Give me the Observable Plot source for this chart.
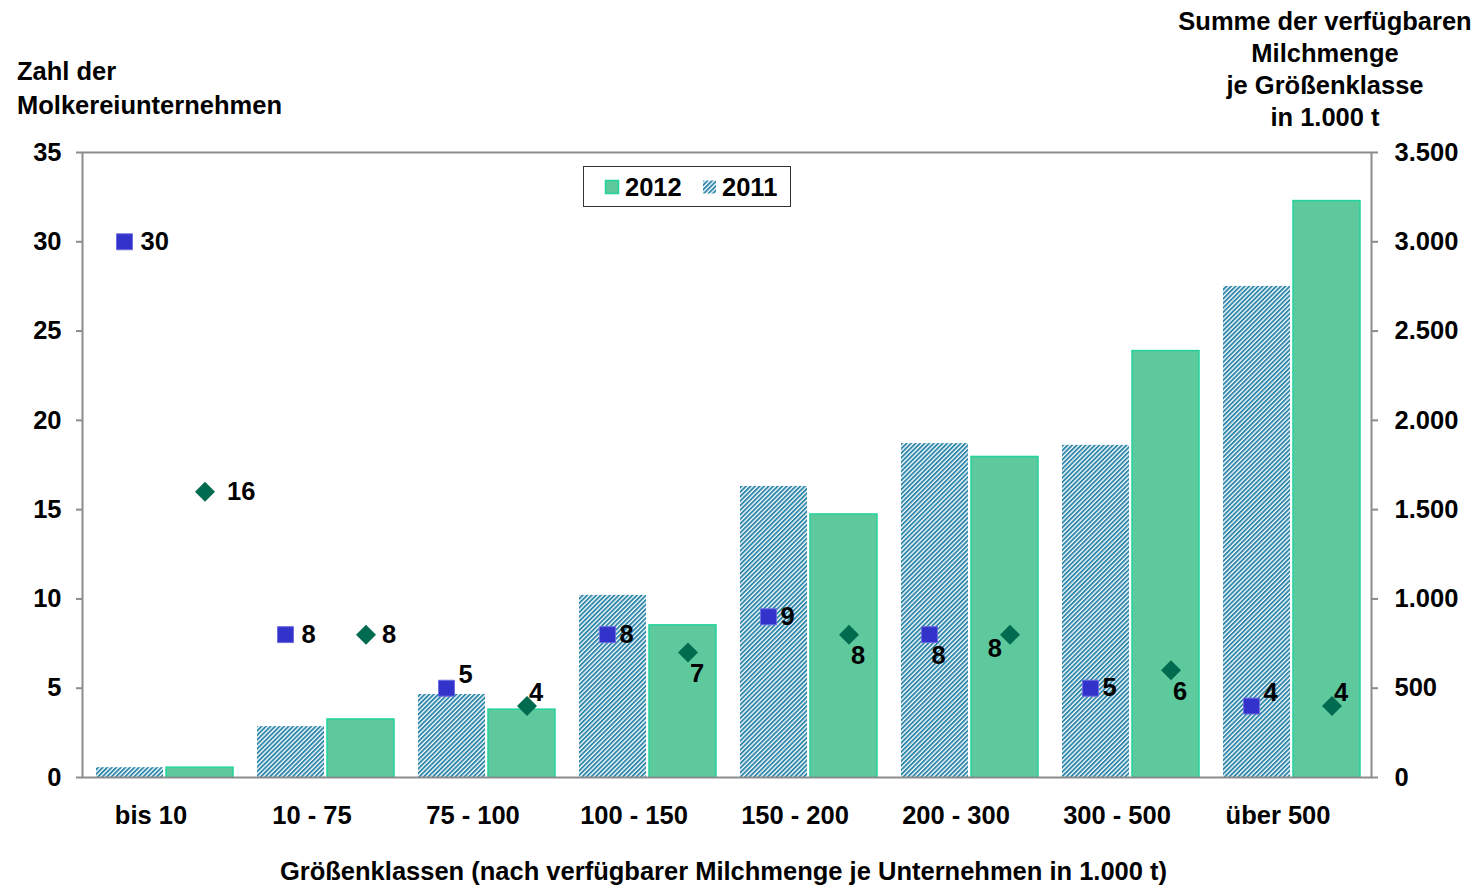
<!DOCTYPE html>
<html>
<head>
<meta charset="utf-8">
<script src="https://cdn.jsdelivr.net/npm/d3@7"></script>
<script src="https://cdn.jsdelivr.net/npm/@observablehq/plot@0.6"></script>
<style>
  body { margin: 0; background: white; }
  svg text { font-family: "Liberation Sans", Arial, sans-serif; }
</style>
</head>
<body>
<div id="chart"></div>
<script>
// ---- data ----
const categories = ["bis 10", "10 - 75", "75 - 100", "100 - 150", "150 - 200", "200 - 300", "300 - 500", "über 500"];
// Summe der verfügbaren Milchmenge je Größenklasse (1.000 t)
const milk2011 = [55, 285, 465, 1020, 1630, 1870, 1860, 2750];
const milk2012 = [55, 325, 380, 852, 1473, 1795, 2388, 3228];
// Zahl der Molkereiunternehmen
const count2011 = [30, 8, 5, 8, 9, 8, 5, 4];
const count2012 = [16, 8, 4, 7, 8, 8, 6, 4];
// label placement (style)
const labelPos2011 = ["right", "right", "above", "near", "near", "below", "near", "above"];
const labelPos2012 = ["far", "right", "aboveNear", "below", "below", "left", "below", "aboveNear"];
const leftTicks = [0, 5, 10, 15, 20, 25, 30, 35];

const rows = categories.map((cat, i) => ({
  cat,
  m2011: milk2011[i], m2012: milk2012[i],
  c2011: count2011[i], c2012: count2012[i],
  p2011: labelPos2011[i], p2012: labelPos2012[i]
}));

const de = d3.formatLocale({decimal: ",", thousands: ".", grouping: [3], currency: ["", " €"]}).format(",d");

const placements = {
  far:       {dx: 22, dy: 0,   textAnchor: "start"},
  right:     {dx: 16, dy: 0,   textAnchor: "start"},
  near:      {dx: 12, dy: 0,   textAnchor: "start"},
  above:     {dx: 12, dy: -13, textAnchor: "start"},
  aboveNear: {dx: 2,  dy: -13, textAnchor: "start"},
  below:     {dx: 2,  dy: 21,  textAnchor: "start"},
  left:      {dx: -8, dy: 14,  textAnchor: "end"}
};

const FS = 25.5;
const sqDx = -39.5, diaDx = 41;
const labelMarks = [];
for (const [name, p] of Object.entries(placements)) {
  labelMarks.push(Plot.text(rows.filter(d => d.p2011 === name), {
    x: "cat", y: "c2011", text: d => String(d.c2011),
    dx: sqDx + p.dx, dy: p.dy, textAnchor: p.textAnchor,
    fill: "black", fontWeight: "bold", fontSize: FS
  }));
  labelMarks.push(Plot.text(rows.filter(d => d.p2012 === name), {
    x: "cat", y: "c2012", text: d => String(d.c2012),
    dx: diaDx + p.dx, dy: p.dy, textAnchor: p.textAnchor,
    fill: "black", fontWeight: "bold", fontSize: FS
  }));
}

const axisColor = "#8c8c8c";

const svg = Plot.plot({
  width: 1477,
  height: 887,
  marginLeft: 82,
  marginRight: 106,
  marginTop: 152,
  marginBottom: 110,
  style: {background: "white", fontFamily: "'Liberation Sans', Arial, sans-serif", fontSize: FS + "px", fontWeight: "bold", overflow: "visible"},
  x: {type: "band", domain: categories, padding: 0},
  y: {domain: [0, 35]},
  marks: [
    Plot.barY(rows, {x: "cat", y: d => d.m2011 / 100, fill: "url(#hatch2011)", insetLeft: 13, insetRight: 81}),
    Plot.barY(rows, {x: "cat", y: d => d.m2012 / 100, fill: "#5ec99d", stroke: "#22d39c", strokeWidth: 1.5, insetLeft: 83, insetRight: 11}),
    Plot.frame({stroke: axisColor, strokeWidth: 2}),
    Plot.axisY({anchor: "left", ticks: leftTicks, tickSize: 6, tickPadding: 15, stroke: axisColor, strokeWidth: 2, fill: "black", label: null, fontWeight: "bold"}),
    Plot.axisY({anchor: "right", ticks: leftTicks, tickFormat: d => de(d * 100), tickSize: 6, tickPadding: 17, stroke: axisColor, strokeWidth: 2, fill: "black", label: null, fontWeight: "bold"}),
    Plot.axisX({anchor: "bottom", tickSize: 0, tickPadding: 28, dx: -13, fill: "black", label: null, fontWeight: "bold"}),
    Plot.dot(rows, {x: "cat", y: "c2011", dx: sqDx, symbol: "square", r: 9, fill: "#3333cc", stroke: "#6d6de0", strokeWidth: 1}),
    Plot.dot(rows, {x: "cat", y: "c2012", dx: diaDx, symbol: "diamond2", r: 9, fill: "#006b4f"}),
    ...labelMarks
  ]
});

const s = d3.select(svg);
// hatch pattern
const defs = s.insert("defs", ":first-child");
const pat = defs.append("pattern").attr("id", "hatch2011")
  .attr("patternUnits", "userSpaceOnUse").attr("width", 3.2).attr("height", 3.2)
  .attr("patternTransform", "rotate(45)");
pat.append("rect").attr("width", 3.2).attr("height", 3.2).attr("fill", "white");
pat.append("rect").attr("width", 1.9).attr("height", 3.2).attr("fill", "#2f88ab");

const font = "'Liberation Sans', Arial, sans-serif";
function addText(x, y, txt, anchor) {
  s.append("text").attr("x", x).attr("y", y).attr("text-anchor", anchor)
    .attr("font-family", font).attr("font-size", FS).attr("font-weight", "bold")
    .attr("fill", "black").text(txt);
}
// left axis title
addText(17, 80, "Zahl der", "start");
addText(17, 114, "Molkereiunternehmen", "start");
// right axis title
["Summe der verfügbaren", "Milchmenge", "je Größenklasse", "in 1.000 t"].forEach((t, i) => addText(1325, 30 + i * 32, t, "middle"));
// x axis title
addText(723.5, 880, "Größenklassen (nach verfügbarer Milchmenge je Unternehmen in 1.000 t)", "middle");

// legend
const lg = s.append("g");
lg.append("rect").attr("x", 583.5).attr("y", 166.5).attr("width", 207).attr("height", 40)
  .attr("fill", "white").attr("stroke", "#333").attr("stroke-width", 1);
lg.append("rect").attr("x", 605.5).attr("y", 180.5).attr("width", 13).attr("height", 13)
  .attr("fill", "#5ec99d").attr("stroke", "#22d39c").attr("stroke-width", 1.5);
lg.append("rect").attr("x", 703).attr("y", 180.5).attr("width", 13).attr("height", 13)
  .attr("fill", "url(#hatch2011)");
addText(625, 196, "2012", "start");
addText(722, 196, "2011", "start");

document.getElementById("chart").appendChild(svg);
</script>
</body>
</html>
